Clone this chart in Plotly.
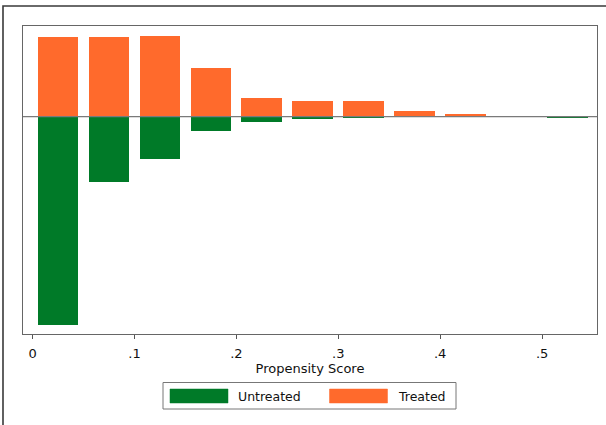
import plotly.graph_objects as go

# ---- data (fractions per propensity-score bin) ----
bin_centers = [0.025, 0.075, 0.125, 0.175, 0.225, 0.275, 0.325, 0.375, 0.425, 0.475, 0.525]
treated = [0.232, 0.232, 0.236, 0.141, 0.053, 0.044, 0.044, 0.015, 0.006, 0.0, 0.0]
untreated = [0.609, 0.192, 0.125, 0.042, 0.017, 0.008, 0.002, 0.001, 0.001, 0.0, 0.003]
tick_vals = [0, 0.1, 0.2, 0.3, 0.4, 0.5]
tick_text = ["0", ".1", ".2", ".3", ".4", ".5"]
series_names = ["Untreated", "Treated"]

GREEN = "#007A28"
ORANGE = "#FF6A2C"
FONT = "DejaVu Sans"

W, H = 606, 425
ML, MR, MT, MB = 23, 9, 26, 91
PW, PH = W - ML - MR, H - MT - MB


def px(x):
    return (x - ML) / PW


def py(y):
    return (H - MB - y) / PH


fig = go.Figure()
fig.add_trace(go.Bar(x=bin_centers, y=[-v for v in untreated], width=0.04,
                     marker=dict(color=GREEN, line=dict(width=0)),
                     name=series_names[0], showlegend=False))
fig.add_trace(go.Bar(x=bin_centers, y=treated, width=0.04,
                     marker=dict(color=ORANGE, line=dict(width=0)),
                     name=series_names[1], showlegend=False))

shapes = [
    # zero line drawn over the bars
    dict(type="line", xref="paper", yref="y", x0=0, x1=1, y0=0, y1=0,
         line=dict(color="#7a7a7a", width=1.2), layer="above"),
    # outer graph-region border (left and top visible)
    dict(type="rect", xref="paper", yref="paper", x0=px(3), x1=px(640), y0=py(6), y1=py(460),
         line=dict(color="#3a3a3a", width=1.6), fillcolor="rgba(0,0,0,0)"),
    # legend box and keys
    dict(type="rect", xref="paper", yref="paper", x0=px(163), x1=px(456), y0=py(382.5), y1=py(409),
         line=dict(color="#777777", width=1), fillcolor="white"),
    dict(type="rect", xref="paper", yref="paper", x0=px(170), x1=px(228), y0=py(389), y1=py(403),
         line=dict(color=GREEN, width=0.5), fillcolor=GREEN),
    dict(type="rect", xref="paper", yref="paper", x0=px(329.5), x1=px(387.5), y0=py(389), y1=py(403),
         line=dict(color=ORANGE, width=0.5), fillcolor=ORANGE),
]

annotations = [
    dict(text=series_names[0], xref="paper", yref="paper", x=px(236), y=py(396.5),
         xanchor="left", yanchor="middle", showarrow=False,
         font=dict(family=FONT, size=12.5, color="#111111")),
    dict(text=series_names[1], xref="paper", yref="paper", x=px(396), y=py(396.5),
         xanchor="left", yanchor="middle", showarrow=False,
         font=dict(family=FONT, size=12.5, color="#111111")),
]

fig.update_layout(
    width=W, height=H,
    margin=dict(l=ML, r=MR, t=MT, b=MB),
    paper_bgcolor="white", plot_bgcolor="white",
    barmode="overlay", bargap=0,
    showlegend=False,
    font=dict(family=FONT, size=12, color="#111111"),
    shapes=shapes, annotations=annotations,
    xaxis=dict(range=[-0.0094, 0.5539], tickmode="array", tickvals=tick_vals, ticktext=tick_text,
               ticks="outside", ticklen=4, tickcolor="#555555", tickwidth=1,
               ticklabelstandoff=3,
               showline=True, linecolor="#666666", linewidth=1, mirror=True,
               showgrid=False, zeroline=False,
               tickfont=dict(family=FONT, size=13, color="#111111"),
               title=dict(text="Propensity Score", standoff=2,
                          font=dict(family=FONT, size=13, color="#111111"))),
    yaxis=dict(range=[-0.634, 0.264], showticklabels=False, ticks="",
               showline=True, linecolor="#666666", linewidth=1, mirror=True,
               showgrid=False, zeroline=False),
)

fig.write_html("out.html", config={"displayModeBar": False},
               post_script="document.body.style.margin='0';document.body.style.padding='0';")
